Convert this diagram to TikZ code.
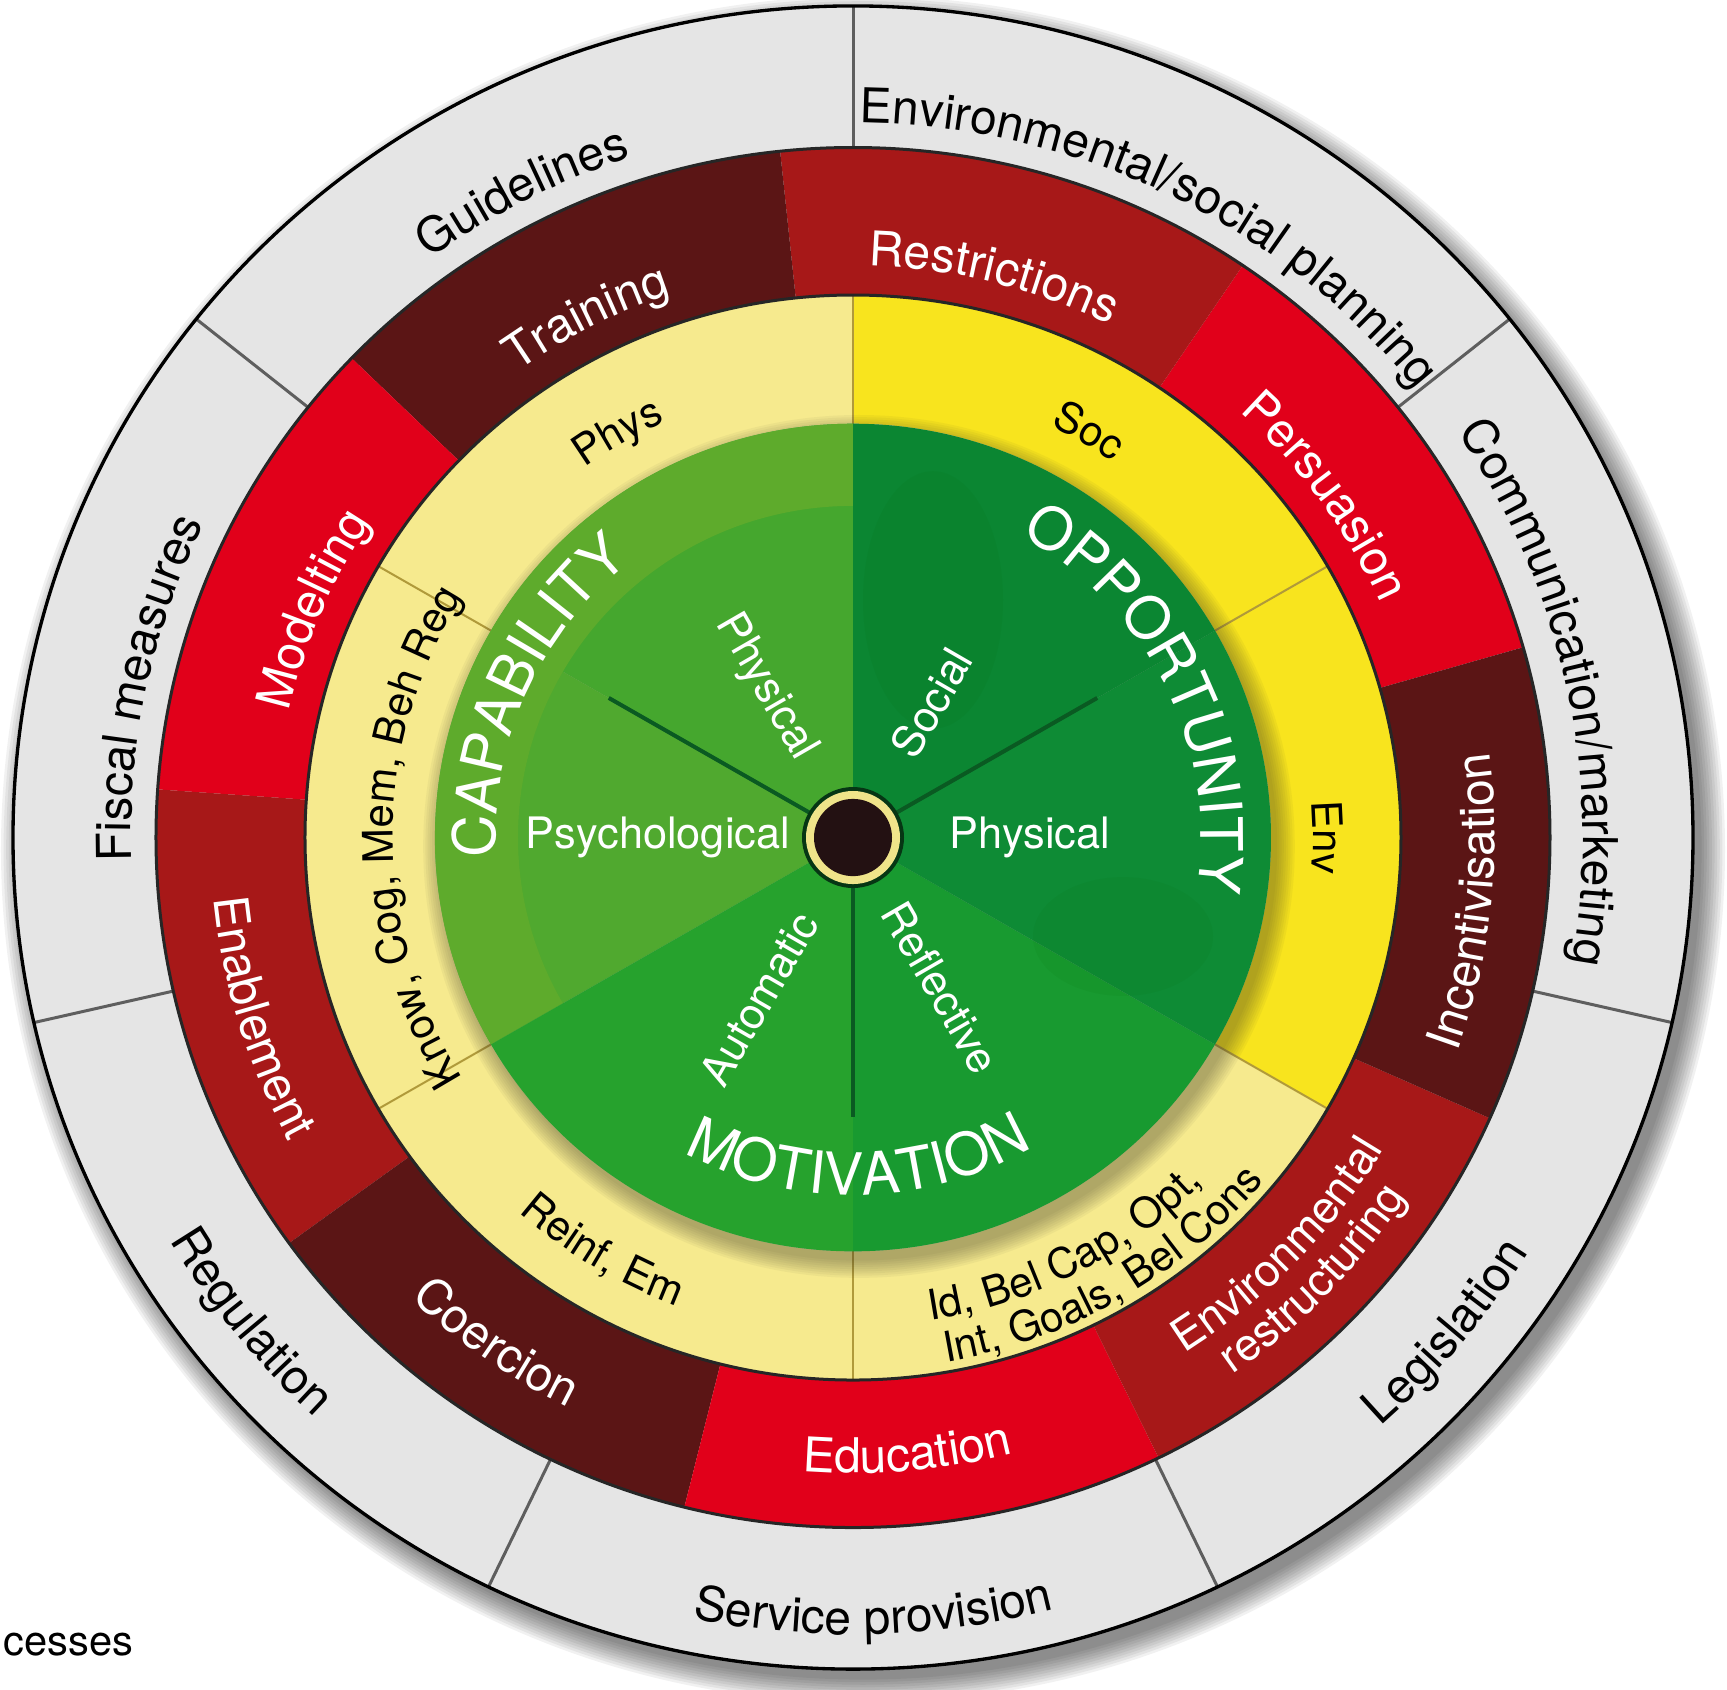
\documentclass[tikz,border=0pt]{standalone}
\usepackage{fontspec}
\setmainfont{TeX Gyre Heros}
\usetikzlibrary{decorations.text}

\definecolor{greyring}{HTML}{E5E5E5}
\definecolor{greyline}{HTML}{5E5E5E}
\definecolor{maroonseg}{HTML}{5B1515}
\definecolor{midred}{HTML}{A71818}
\definecolor{brightred}{HTML}{E1001A}
\definecolor{paleyellow}{HTML}{F6EA8E}
\definecolor{deepyellow}{HTML}{F8E41E}
\definecolor{yline}{HTML}{B09A3A}
\definecolor{gcapa}{HTML}{45A72E}
\definecolor{gcapb}{HTML}{50A92F}
\definecolor{gcapband}{HTML}{5EAB2C}
\definecolor{gauto}{HTML}{26A22D}
\definecolor{grefl}{HTML}{189A30}
\definecolor{gphys}{HTML}{0E8B35}
\definecolor{gsoc}{HTML}{0B8632}
\definecolor{spokecol}{HTML}{0A5A22}
\definecolor{hubring}{HTML}{EFE48A}
\definecolor{hubcore}{HTML}{231112}

% filled annular sector: start angle, end angle, inner radius, outer radius, colour
\newcommand\ringsector[5]{%
  \fill[#5] (#1:#3) arc[start angle=#1, end angle=#2, radius=#3]
    -- (#2:#4) arc[start angle=#2, end angle=#1, radius=#4] -- cycle;}

% text along a clockwise arc (letters pointing outwards): centre angle, baseline radius, half span, format, text
\newcommand\cwtext[5]{%
  \path[decorate, decoration={text along path, text align=center, text={|#4|#5}}]
    ({#1+#3}:#2) arc[start angle={#1+#3}, end angle={#1-#3}, radius=#2];}

% text along a counter-clockwise arc (letters pointing inwards)
\newcommand\ccwtext[5]{%
  \path[decorate, decoration={text along path, text align=center, text={|#4|#5}}]
    ({#1-#3}:#2) arc[start angle={#1-#3}, end angle={#1+#3}, radius=#2];}

% left aligned counter-clockwise text: start angle, baseline radius, format, text
\newcommand\ccwtextleft[4]{%
  \path[decorate, decoration={text along path, text={|#3|#4}}]
    (#1:#2) arc[start angle=#1, end angle={#1+80}, radius=#2];}

\newcommand\fpolicy{\fontsize{14.4}{17}\selectfont\color{black}}
\newcommand\ffunction{\fontsize{14.4}{17}\selectfont\color{white}}
\newcommand\ffunctionsmall{\fontsize{13.5}{16}\selectfont\color{white}}
\newcommand\fsource{\fontsize{12.6}{15}\selectfont\color{black}}
\newcommand\fcomb{\fontsize{17.6}{21}\selectfont\color{white}}

\tikzset{
  glabel/.style={text=white, font=\fontsize{13}{15}\selectfont, inner sep=0pt},
  policydivider/.style={draw=greyline, line width=0.9pt},
  sourcedivider/.style={draw=yline, line width=0.6pt},
  spoke/.style={draw=spokecol, line width=1.2pt},
  ringedge/.style={draw=black!85, line width=0.9pt}
}

\begin{document}
\begin{tikzpicture}[x=0.3pt, y=0.297pt]
  \useasboundingbox (-853,-861) rectangle (874,846);
  \fill[white] (-853,-861) rectangle (874,846);

  % soft shadow of the whole wheel
  \foreach \i in {1,...,10}
    \fill[black, opacity=0.055] (10,-12) circle[radius={836+2.6*\i}];

  % policy categories ring
  \fill[greyring] (0,0) circle[radius=840];
  \foreach \k in {0,...,6}
    \draw[policydivider] ({90+\k*360/7}:690) -- ({90+\k*360/7}:840);

  % intervention functions ring
  \ringsector{16}{56}{548}{697}{brightred}
  \ringsector{56}{96}{548}{697}{midred}
  \ringsector{96}{136}{548}{697}{maroonseg}
  \ringsector{136}{176}{548}{697}{brightred}
  \ringsector{176}{216}{548}{697}{midred}
  \ringsector{216}{256}{548}{697}{maroonseg}
  \ringsector{256}{296}{548}{697}{brightred}
  \ringsector{296}{336}{548}{697}{midred}
  \ringsector{336}{376}{548}{697}{maroonseg}
  \draw[ringedge] (0,0) circle[radius=697];

  % sources of behaviour ring
  \ringsector{30}{90}{418}{548}{deepyellow}
  \ringsector{90}{150}{418}{548}{paleyellow}
  \ringsector{150}{210}{418}{548}{paleyellow}
  \ringsector{210}{270}{418}{548}{paleyellow}
  \ringsector{270}{330}{418}{548}{paleyellow}
  \ringsector{330}{390}{418}{548}{deepyellow}
  \foreach \a in {30,90,...,330}
    \draw[sourcedivider] (\a:418) -- (\a:548);
  \draw[ringedge] (0,0) circle[radius=548];

  % shadow of the COM-B disc
  \foreach \i in {1,...,9}
    \fill[black!70!olive, opacity=0.05] (6,-9) circle[radius={416+2.2*\i}];

  % COM-B disc
  \ringsector{90}{150}{0}{418}{gcapa}
  \ringsector{150}{210}{0}{418}{gcapb}
  \ringsector{90}{210}{335}{418}{gcapband}
  \ringsector{210}{270}{0}{418}{gauto}
  \ringsector{270}{330}{0}{418}{grefl}
  \ringsector{330}{390}{0}{418}{gphys}
  \ringsector{30}{90}{0}{418}{gsoc}
  \fill[black!60!green, opacity=0.07] (80,240) ellipse[x radius=70, y radius=130];
  \fill[black!60!green, opacity=0.07] (270,-100) ellipse[x radius=90, y radius=60];
  \foreach \a in {30,150,270}
    \draw[spoke] (\a:45) -- (\a:282);

  % hub
  \fill[spokecol!60!black] (0,0) circle[radius=51];
  \fill[hubring] (0,0) circle[radius=47];
  \fill[hubcore] (0,0) circle[radius=39];

  % outline of the wheel
  \draw[black, line width=1pt] (0,0) circle[radius=840];

  % policy categories
  \cwtext{64}{722}{60}{\fpolicy}{Environmental/social planning}
  \cwtext{117}{722}{40}{\fpolicy}{Guidelines}
  \cwtext{168}{722}{40}{\fpolicy}{Fiscal measures}
  \cwtext{12}{730}{50}{\fpolicy}{Communication/marketing}
  \ccwtext{219}{795}{40}{\fpolicy}{Regulation}
  \ccwtext{271.5}{805}{40}{\fpolicy}{Service provision}
  \ccwtext{320}{795}{40}{\fpolicy}{Legislation}

  % intervention functions
  \cwtext{117}{578}{40}{\ffunction}{Training}
  \cwtext{76}{578}{40}{\ffunction}{Restrictions}
  \cwtext{36}{578}{40}{\ffunction}{Persuasion}
  \cwtext{157}{578}{40}{\ffunction}{Modelting}
  \ccwtext{354}{642}{40}{\ffunction}{Incentivisation}
  \ccwtext{275}{642}{40}{\ffunction}{Education}
  \ccwtext{235}{642}{40}{\ffunction}{Coercion}
  \ccwtext{197}{642}{40}{\ffunction}{Enablement}
  \ccwtext{316}{617}{40}{\ffunctionsmall}{Environmental}
  \ccwtext{316}{662}{40}{\ffunctionsmall}{restructuring}

  % sources of behaviour
  \cwtext{120}{460}{40}{\fsource}{Phys}
  \cwtext{60}{460}{40}{\fsource}{Soc}
  \cwtext{0}{460}{40}{\fsource}{Env}
  \cwtext{180}{460}{50}{\fsource}{Know, Cog, Mem, Beh Reg}
  \ccwtext{239}{505}{40}{\fsource}{Reinf, Em}
  \ccwtextleft{279}{494}{\fsource}{Id, Bel Cap, Opt,}
  \ccwtextleft{280}{538}{\fsource}{Int, Goals, Bel Cons}

  % COM-B components
  \cwtext{156}{357}{60}{\fcomb}{CAPABILITY}
  \cwtext{26}{348}{60}{\fcomb}{OPPORTUNITY}
  \ccwtext{271}{361}{60}{\fcomb}{MOTIVATION}

  \node[glabel] (psych) at (-195,0) {Psychological};
  \node[glabel] (ophys) at (177,0) {Physical};
  \node[glabel, rotate=-60] (cphys) at (120:175) {Physical};
  \node[glabel, rotate=60] (social) at (60:157) {Social};
  \node[glabel, rotate=60] (auto) at (240:188) {Automatic};
  \node[glabel, rotate=-60] (refl) at (300:175) {Reflective};

  \node[anchor=base west, font=\fontsize{12.5}{15}\selectfont, inner sep=0pt] (cesses) at (-850,-826) {cesses};
\end{tikzpicture}
\end{document}
